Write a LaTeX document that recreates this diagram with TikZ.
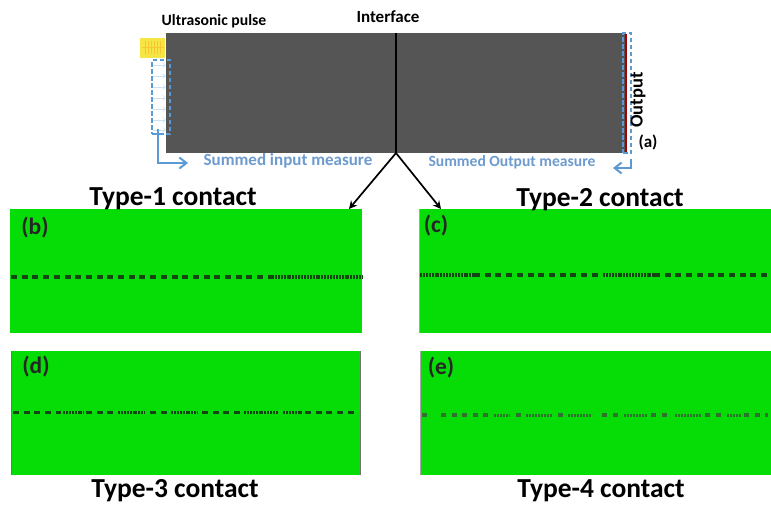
\documentclass[tikz,border=0pt]{standalone}
\usepackage{fontspec}
\setmainfont{Carlito}
\usetikzlibrary{arrows.meta}
\definecolor{panelgreen}{RGB}{6,220,6}
\definecolor{bargrey}{RGB}{85,85,85}
\definecolor{measureblue}{RGB}{91,155,213}
\definecolor{measuretext}{RGB}{110,155,205}
\definecolor{pulseyellow}{RGB}{245,230,70}
\definecolor{seamdark}{RGB}{20,70,20}
\definecolor{seamfaint}{RGB}{45,115,45}
\tikzset{
  x=1pt,y=-1pt,
  panel/.style={fill=panelgreen,draw=none,minimum width=#1,minimum height=124pt,inner sep=0pt,outer sep=0pt,anchor=north west},
  plabel/.style={font=\bfseries\fontsize{23.5}{25}\selectfont,text=black!85,inner sep=0pt},
  typelabel/.style={font=\bfseries\fontsize{27.5}{29}\selectfont,text=black,inner sep=0pt},
  toplabel/.style={font=\bfseries\fontsize{15.7}{17}\selectfont,text=black,inner sep=0pt},
  bluelabel/.style={font=\bfseries\fontsize{16.5}{18}\selectfont,text=measuretext,inner sep=0pt},
  measurebox/.style={draw=measureblue,line width=2pt,dash pattern=on 4.5pt off 2.5pt},
  measurearrow/.style={draw=measureblue,line width=2pt,-{Straight Barb[length=7pt,width=11pt]}},
  fanarrow/.style={draw=black,line width=1.7pt,-{Stealth[length=8pt,width=8pt]}},
  seam/.style={draw=seamdark,line width=3.8pt},
  dense/.style={draw=seamdark,line width=3.4pt,dash pattern=on 2pt off .9pt},
  sparse/.style={seam,dash pattern=on 6pt off 4.7pt},
  faintdash/.style={draw=seamfaint,line width=3.2pt,dash pattern=on 5pt off 5.6pt},
  faintdense/.style={draw=seamfaint,line width=3pt,dash pattern=on 2pt off 1pt},
  tinyarrow/.style={draw=white!70!measureblue,line width=.6pt,-{Straight Barb[length=3pt,width=5pt]}},
}
\begin{document}
\begin{tikzpicture}
\useasboundingbox (0,0) rectangle (771,504);
\fill[white] (0,0) rectangle (771,504);

% bar
\node[fill=bargrey,minimum width=460pt,minimum height=120pt,inner sep=0pt,outer sep=0pt,anchor=north west] (bar) at (166,33) {};
\draw[black,line width=2.2pt] (bar.north) -- (bar.south);
\coordinate (fan) at (bar.south);

% pulse
\node[fill=pulseyellow,minimum width=25pt,minimum height=20pt,inner sep=0pt,outer sep=0pt,anchor=north west] (pulse) at (140,38) {};
\foreach \x in {145,148,...,161}
  \draw[draw=orange!30!pulseyellow,line width=.6pt] (\x,41) -- (\x,54);
\draw[draw=orange!30!pulseyellow,line width=.6pt] (142,47.5) -- (164,47.5);

% input measure
\foreach \y in {65,76,87,98,109,120,130}
  \draw[tinyarrow] (153,\y) -- (166,\y);
\node[measurebox,minimum width=18pt,minimum height=74pt,inner sep=0pt,outer sep=0pt,anchor=north west] (inbox) at (152,60) {};
\draw[measurearrow] (158,129) -- (158,163) -- (188,163);

% output measure
\draw[draw=red!65!black,line width=2pt] (626,34) -- (626,153);
\node[measurebox,minimum width=8pt,minimum height=120pt,inner sep=0pt,outer sep=0pt,anchor=north west] (outbox) at (623,33) {};
\draw[measurearrow] (631,159) -- (631,168) -- (613,168);

% labels of the top figure
\node[toplabel] (lpulse) at (214,21) {Ultrasonic pulse};
\node[toplabel,font=\bfseries\fontsize{17}{18}\selectfont] (lint) at (388,17) {Interface};
\node[toplabel,font=\bfseries\fontsize{18.5}{20}\selectfont,rotate=90] (lout) at (638,100) {Output};
\node[toplabel,font=\bfseries\fontsize{17}{18}\selectfont] (la) at (648,142) {(a)};
\node[bluelabel,font=\bfseries\fontsize{17}{18}\selectfont] (lin) at (288,161) {Summed input measure};
\node[bluelabel,font=\bfseries\fontsize{15.6}{17}\selectfont] (losum) at (512,162) {Summed Output measure};

% panels
\node[panel=352pt] (pb) at (10,209) {};
\node[panel=352pt] (pc) at (419,209) {};
\node[panel=349pt] (pd) at (11,351) {};
\node[panel=351pt] (pe) at (420,351) {};
\draw[black!55,line width=1pt] (pd.north west) -- (pd.south west);
\draw[black!55,line width=1pt] (pd.north east) -- (pd.south east);
\draw[black!35,line width=1pt] (pe.north west) -- (pe.south west);
\draw[black!35,line width=1pt] (pc.north west) -- (pc.south west);

% connectors from the interface
\coordinate (tb) at (349,209);
\coordinate (tc) at (441,209);
\draw[fanarrow] (fan) -- (tb);
\draw[fanarrow] (fan) -- (tc);

% type 1 seam
\draw[sparse] (11,277) -- (272,277);
\draw[dense] (272,277) -- (362,277);

% type 2 seam
\draw[dense] (420,275) -- (474,275);
\draw[sparse] (474,275) -- (600,275);
\draw[dense] (603,275) -- (654,275);
\draw[sparse] (654,275) -- (771,275);

% type 3 seam
\draw[sparse] (13,412.5) -- (61,412.5);
\draw[dense] (63,412.5) -- (84,412.5);
\draw[sparse] (86,412.5) -- (116,412.5);
\draw[dense] (118,412.5) -- (145,412.5);
\draw[sparse] (150,412.5) -- (168,412.5);
\draw[dense] (171,412.5) -- (198,412.5);
\draw[sparse] (202,412.5) -- (242,412.5);
\draw[dense] (244,412.5) -- (278,412.5);
\draw[dense] (283,412.5) -- (302,412.5);
\draw[sparse] (305,412.5) -- (356,412.5);

% type 4 seam
\draw[faintdash] (422,415) -- (432,415);
\draw[faintdash] (441,415) -- (492,415);
\draw[faintdense] (494,415) -- (510,415);
\draw[faintdash] (516,415) -- (525,415);
\draw[faintdense] (526,415) -- (552,415);
\draw[faintdash] (558,415) -- (566,415);
\draw[faintdense] (568,415) -- (592,415);
\draw[faintdash] (602,415) -- (622,415);
\draw[faintdense] (624,415) -- (647,415);
\draw[faintdash] (651,415) -- (672,415);
\draw[faintdense] (675,415) -- (702,415);
\draw[faintdash] (705,415) -- (726,415);
\draw[faintdense] (727,415) -- (741,415);
\draw[faintdash] (744,415) -- (768,415);

% panel letters and headings
\node[plabel] (lb) at (35,228) {(b)};
\node[plabel] (lc) at (436,226) {(c)};
\node[plabel] (ld) at (36,367) {(d)};
\node[plabel] (le) at (441,368) {(e)};
\node[typelabel] (t1) at (173,199) {Type-1 contact};
\node[typelabel] (t2) at (600,200) {Type-2 contact};
\node[typelabel] (t3) at (175,491) {Type-3 contact};
\node[typelabel] (t4) at (601,491) {Type-4 contact};
\end{tikzpicture}
\end{document}
